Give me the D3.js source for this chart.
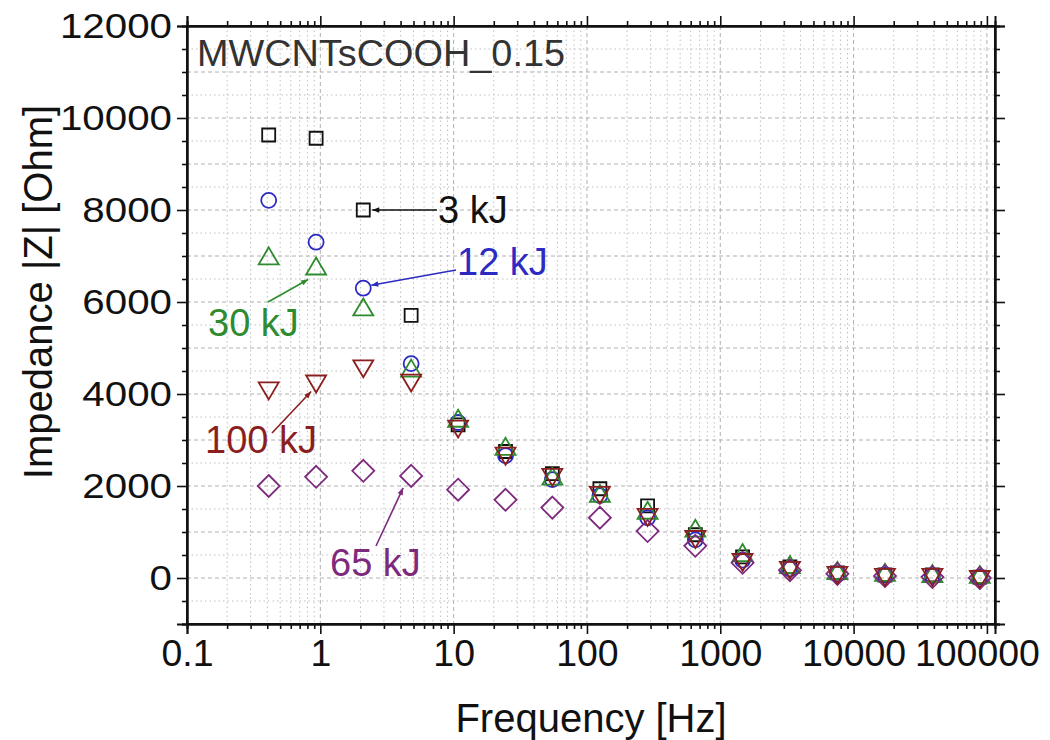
<!DOCTYPE html>
<html>
<head>
<meta charset="utf-8">
<script src="https://cdn.jsdelivr.net/npm/d3@7"></script>
<style>
  body { margin: 0; background: #fff; }
  text { font-family: "Liberation Sans", Arial, sans-serif; }
</style>
</head>
<body>
<div id="chart-area"></div>
<script>
    // frequencies [Hz] and |Z| [Ohm]
    var freq = [0.41, 0.93, 2.1, 4.8, 10.8, 24.5, 55, 125, 285, 650, 1470, 3330, 7560, 17200, 39000, 88500];
    var z3kJ   = [9630, 9560, 8000, 5710, 3330, 2750, 2270, 1940, 1570, 940, 460, 240, 110, 65, 65, 20];
    var z12kJ  = [8210, 7300, 6300, 4660, 3380, 2660, 2140, 1790, 1310, 830, 390, 200, 90, 65, 45, 20];
    var z30kJ  = [6970, 6750, 5860, 4530, 3440, 2830, 2180, 1810, 1440, 1050, 520, 260, 130, 90, 65, 45];
    var z65kJ  = [2000, 2200, 2330, 2220, 1920, 1700, 1530, 1310, 1020, 700, 330, 170, 90, 45, 20, 0];
    var z100kJ = [4100, 4250, 4580, 4270, 3270, 2680, 2220, 1830, 1350, 870, 370, 200, 90, 45, 45, 0];
    var seriesNames = ['3 kJ', '12 kJ', '30 kJ', '65 kJ', '100 kJ'];
    var xTicks = [0.1, 1, 10, 100, 1000, 10000, 100000];
    var yTicks = [0, 2000, 4000, 6000, 8000, 10000, 12000];
    var sampleName = 'MWCNTsCOOH_0.15';

    var margin = { left: 187, right: 55, top: 26, bottom: 116 };
    var width = 1050 - margin.left - margin.right;
    var height = 740 - margin.top - margin.bottom;
    var stretchX = 1.04;
    var stretchY = 1.12;

    var series = [
      { name: seriesNames[0], values: z3kJ,   color: '#111111', shape: 'square' },
      { name: seriesNames[1], values: z12kJ,  color: '#2b2bc4', shape: 'circle' },
      { name: seriesNames[2], values: z30kJ,  color: '#2e8b2e', shape: 'triangle' },
      { name: seriesNames[3], values: z65kJ,  color: '#7d2a7d', shape: 'diamond' },
      { name: seriesNames[4], values: z100kJ, color: '#8b1f1f', shape: 'triangleDown' }
    ];

    var svg = d3.select('#chart-area')
      .append('svg')
      .attr('width', 1050)
      .attr('height', 740);

    const g = svg.append('g').attr('transform', `translate(${margin.left},${margin.top})`);

    var xScale = d3.scaleLog()
      .domain([0.1, 115000])
      .range([0, width]);

    var yScale = d3.scaleLinear()
      .domain([-1000, 12000])
      .range([height, 0]);

    // minor log ticks 2..9 in each decade
    var minorX = [];
    xTicks.forEach((t) => {
      for (var k = 2; k <= 9; k++) {
        if (t * k <= 115000) minorX.push(t * k);
      }
    });
    var minorY = d3.range(-1000, 12001, 500).filter((v) => yTicks.indexOf(v) < 0);
    var gridY = d3.range(-500, 12000, 500);

    // grid
    const grid = g.append('g').attr('class', 'grid');
    grid.selectAll('.vmaj').data(xTicks.slice(1, -1).concat([100000])).enter().append('line')
      .attr('x1', (d) => xScale(d)).attr('x2', (d) => xScale(d))
      .attr('y1', 0).attr('y2', height)
      .attr('stroke', '#b0b0b0').attr('stroke-width', 1).attr('stroke-dasharray', '4,3');
    grid.selectAll('.vmin').data(minorX).enter().append('line')
      .attr('x1', (d) => xScale(d)).attr('x2', (d) => xScale(d))
      .attr('y1', 0).attr('y2', height)
      .attr('stroke', '#c0c0c0').attr('stroke-width', 1).attr('stroke-dasharray', '1.5,3');
    grid.selectAll('.h').data(gridY).enter().append('line')
      .attr('x1', 0).attr('x2', width)
      .attr('y1', (d) => yScale(d)).attr('y2', (d) => yScale(d))
      .attr('stroke', (d) => d % 1000 === 0 ? '#b0b0b0' : '#c0c0c0')
      .attr('stroke-width', 1)
      .attr('stroke-dasharray', (d) => d % 1000 === 0 ? '4,3' : '1.5,3');

    // axes
    var xAxisCall = d3.axisBottom(xScale).tickValues(xTicks).tickFormat(d3.format('')).tickSize(10).tickPadding(6);
    var xMinorCall = d3.axisBottom(xScale).tickValues(minorX).tickFormat('').tickSize(5);
    var xTopCall = d3.axisTop(xScale).tickValues(xTicks).tickFormat('').tickSize(10);
    var xTopMinor = d3.axisTop(xScale).tickValues(minorX).tickFormat('').tickSize(5);
    var yAxisCall = d3.axisLeft(yScale).tickValues(yTicks).tickFormat(d3.format('')).tickSize(10).tickPadding(5);
    var yMinorCall = d3.axisLeft(yScale).tickValues(minorY).tickFormat('').tickSize(5);
    var yRightCall = d3.axisRight(yScale).tickValues(yTicks).tickFormat('').tickSize(10);
    var yRightMinor = d3.axisRight(yScale).tickValues(minorY).tickFormat('').tickSize(5);

    const xAxisG = g.append('g').attr('class', 'x axis').attr('transform', `translate(0,${height})`).call(xAxisCall);
    g.append('g').attr('class', 'x axis').attr('transform', `translate(0,${height})`).call(xMinorCall);
    g.append('g').attr('class', 'x axis').call(xTopCall);
    g.append('g').attr('class', 'x axis').call(xTopMinor);
    const yAxisG = g.append('g').attr('class', 'y axis').call(yAxisCall);
    g.append('g').attr('class', 'y axis').call(yMinorCall);
    g.append('g').attr('class', 'y axis').attr('transform', `translate(${width},0)`).call(yRightCall);
    g.append('g').attr('class', 'y axis').attr('transform', `translate(${width},0)`).call(yRightMinor);

    g.selectAll('.axis path, .axis line').attr('stroke', '#111').attr('stroke-width', 1.6);
    g.selectAll('.axis .domain').attr('stroke-width', 2);
    g.selectAll('.axis text').attr('font-size', '36px').attr('fill', '#111')
      .attr('font-family', '"Liberation Sans", Arial, sans-serif');

    // the reference glyphs are a little wider than Liberation Sans
    xAxisG.selectAll('.tick text')
      .attr('x', (d) => d === 100000 ? -10 / stretchX : 0)
      .attr('transform', `scale(${stretchX},1)`);
    yAxisG.selectAll('.tick text')
      .attr('x', -15 / stretchY)
      .attr('transform', `scale(${stretchY},1)`);

    // frame
    g.append('rect').attr('x', 0).attr('y', 0).attr('width', width).attr('height', height)
      .attr('fill', 'none').attr('stroke', '#111').attr('stroke-width', 2);

    // markers
    function markerPath(shape) {
      switch (shape) {
        case 'square': return 'M-6.5,-6.5H6.5V6.5H-6.5Z';
        case 'circle': return 'M7.5,0A7.5,7.5 0 1,1 -7.5,0A7.5,7.5 0 1,1 7.5,0Z';
        case 'triangle': return 'M0,-10L10,7H-10Z';
        case 'triangleDown': return 'M0,10L10,-7H-10Z';
        case 'diamond': return 'M0,-11L11,0L0,11L-11,0Z';
      }
    }

    series.forEach((s) => {
      g.append('g').attr('class', 'series')
        .selectAll('path')
        .data(freq.map((f, i) => ({ f: f, z: s.values[i] })))
        .enter()
        .append('path')
        .attr('d', markerPath(s.shape))
        .attr('transform', (d) => `translate(${xScale(d.f)},${yScale(d.z)})`)
        .attr('fill', 'none')
        .attr('stroke', s.color)
        .attr('stroke-width', 1.8);
    });

    // arrow heads
    const defs = svg.append('defs');
    series.forEach((s, i) => {
      defs.append('marker')
        .attr('id', 'arrow' + i)
        .attr('viewBox', '0 -5 10 10')
        .attr('refX', 10).attr('refY', 0)
        .attr('markerWidth', 10).attr('markerHeight', 7)
        .attr('markerUnits', 'userSpaceOnUse')
        .attr('orient', 'auto')
        .append('path').attr('d', 'M0,-4L10,0L0,4Z').attr('fill', s.color);
    });

    // labels: which series, which point, where the text sits and arrow start/end offsets
    var notes = [
      { s: 0, idx: 2, tx: 251, ty: 184, ax: 250, ay: 184, dx: 9, dy: 0 },
      { s: 1, idx: 2, tx: 270, ty: 236, ax: 269, ay: 244, dx: 8, dy: -3 },
      { s: 2, idx: 1, tx: 21, ty: 297, ax: 81, ay: 276, dx: -8, dy: 12 },
      { s: 4, idx: 1, tx: 18, ty: 414, ax: 85, ay: 407, dx: -5, dy: 9 },
      { s: 3, idx: 3, tx: 143, ty: 537, ax: 189, ay: 520, dx: -8, dy: 12 }
    ];

    notes.forEach((n) => {
      var s = series[n.s];
      var px = xScale(freq[n.idx]) + n.dx;
      var py = yScale(s.values[n.idx]) + n.dy;
      g.append('line')
        .attr('x1', n.ax).attr('y1', n.ay)
        .attr('x2', px).attr('y2', py)
        .attr('stroke', s.color).attr('stroke-width', 1.6)
        .attr('marker-end', `url(#arrow${n.s})`);
      g.append('text')
        .attr('x', n.tx).attr('y', n.ty)
        .attr('dy', '0.35em')
        .attr('font-size', '38px')
        .attr('fill', s.color)
        .text(s.name);
    });

    g.append('text')
      .attr('x', 10).attr('y', 27)
      .attr('dy', '0.35em')
      .attr('font-size', '37px')
      .attr('textLength', 368)
      .attr('lengthAdjust', 'spacingAndGlyphs')
      .attr('fill', '#333')
      .text(sampleName);

    // axis titles
    svg.append('text')
      .attr('x', 591).attr('y', 718)
      .attr('dy', '0.35em')
      .attr('font-size', '40px')
      .attr('text-anchor', 'middle')
      .attr('fill', '#111')
      .text('Frequency [Hz]');
    svg.append('text')
      .attr('transform', 'rotate(-90)')
      .attr('x', -292).attr('y', 38)
      .attr('dy', '0.35em')
      .attr('font-size', '40px')
      .attr('text-anchor', 'middle')
      .attr('fill', '#111')
      .text('Impedance |Z| [Ohm]');
</script>
</body>
</html>
